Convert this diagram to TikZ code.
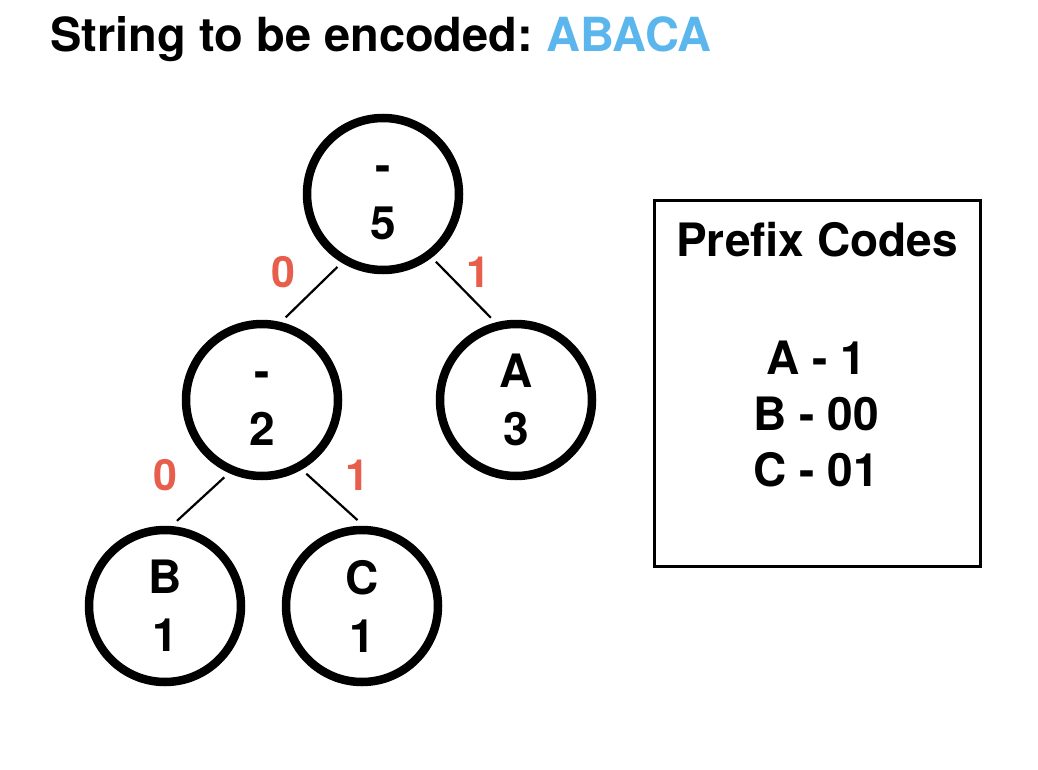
\documentclass[tikz,border=0pt]{standalone}
\usepackage{fontspec}
\setmainfont{TeX Gyre Heros}
\usetikzlibrary{positioning}
\definecolor{codeblue}{RGB}{90,182,236}
\definecolor{bitred}{RGB}{232,94,76}
\newcommand{\nochar}{\vphantom{A}-}
\frenchspacing

\begin{document}
\begin{tikzpicture}[x=1pt, y=-1pt]
    \tikzset{
        huff/.style={draw, circle, line width=8.5pt, minimum size=152pt, inner sep=0pt,
            outer sep=10pt, align=center, font=\bfseries\fontsize{46}{58}\selectfont},
        bit/.style={text=bitred, font=\bfseries\fontsize{43}{50}\selectfont},
        branch/.style={line width=2.2pt},
        big/.style={font=\bfseries\fontsize{46}{56}\selectfont},
    }
    \useasboundingbox (0,0) rectangle (1038,770);

    \node[anchor=base west, font=\bfseries\fontsize{47}{56}\selectfont] (title) at (47,52)
        {String to be encoded: \textcolor{codeblue}{ABACA}};

    % tree
    \node[huff] (root) at (383,194) {\nochar\\5};
    \node[huff] (left) at (262,400) {\nochar\\2};
    \node[huff] (a) at (516,400) {A\\3};
    \node[huff] (b) at (165,606) {B\\1};
    \node[huff] (c) at (362,606) {C\\1};

    \draw[branch] (root.-122) -- (left.74);
    \draw[branch] (root.-52) -- (a.107);
    \draw[branch] (left.-116) -- (b.82);
    \draw[branch] (left.-59) -- (c.93);

    \node[bit] (bitrootl) at (283,272) {0};
    \node[bit] (bitrootr) at (478,272) {1};
    \node[bit] (bitleftl) at (165,475) {0};
    \node[bit] (bitleftr) at (357,475) {1};

    % code table
    \node[draw, line width=3pt, minimum width=326pt, minimum height=366pt, inner sep=0pt] (codes) at (817.5,383.5) {};
    \node[big] (codetitle) at (817,240) {Prefix Codes};
    \node[big, align=center] (codelist) at (816,414) {A - 1\\B - 00\\C - 01};
\end{tikzpicture}
\end{document}
